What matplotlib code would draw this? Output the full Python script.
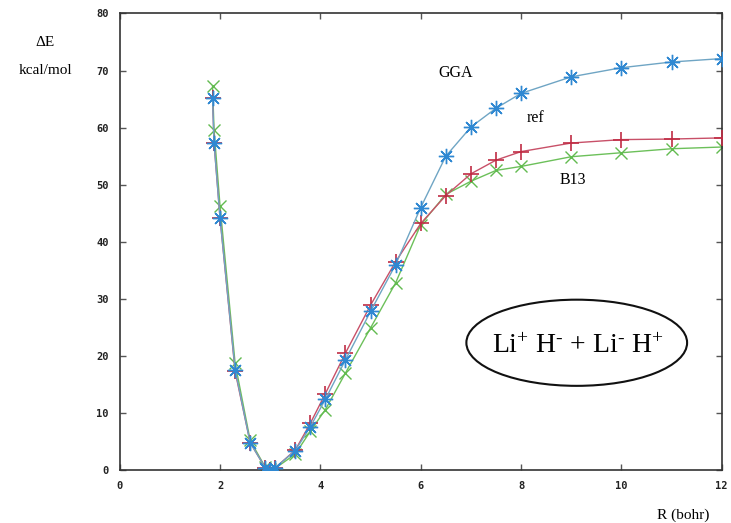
import matplotlib
matplotlib.use("Agg")
import matplotlib.pyplot as plt
from matplotlib.patches import Ellipse

plt.rcParams["mathtext.fontset"] = "custom"
plt.rcParams["mathtext.rm"] = "Liberation Serif"
plt.rcParams["mathtext.it"] = "Liberation Serif:italic"
plt.rcParams["mathtext.bf"] = "Liberation Serif:bold"

R = [1.85, 1.88, 2.0, 2.3, 2.6, 2.9, 3.0, 3.1, 3.5, 3.8, 4.1, 4.5, 5.0, 5.5,
     6.0, 6.5, 7.0, 7.5, 8.0, 9.0, 10.0, 11.0, 12.0]
gga = [65.2, 57.3, 44.1, 17.6, 4.8, 0.4, 0.0, 0.4, 3.4, 7.6, 12.4, 19.3, 27.8, 36.0,
       46.0, 55.0, 60.1, 63.4, 66.0, 68.9, 70.5, 71.5, 72.1]
ref = [65.2, 57.3, 44.1, 17.3, 4.8, 0.4, 0.0, 0.4, 3.5, 8.2, 13.4, 20.5, 28.9, 36.5,
       43.2, 48.1, 51.9, 54.3, 55.8, 57.3, 57.9, 58.0, 58.2]
b13 = [67.3, 59.6, 46.2, 18.7, 5.2, 0.5, 0.1, 0.3, 2.8, 6.8, 10.6, 17.0, 24.9, 32.8,
       43.0, 48.3, 50.6, 52.5, 53.2, 54.9, 55.6, 56.3, 56.6]
xticks = [0, 2, 4, 6, 8, 10, 12]
yticks = [0, 10, 20, 30, 40, 50, 60, 70, 80]

fig = plt.figure(figsize=(7.31, 5.23), dpi=100)
ax = fig.add_axes([0.1638, 0.1013, 0.8235, 0.8729])

ax.plot(R, b13, color="#6cc05a", lw=1.0, marker="x", ms=9, mew=1.0,
        mec="#62bb50", zorder=2)
ax.plot(R, ref, color="#c85068", lw=1.0, marker="+", ms=11, mew=1.2,
        mec="#c02c44", zorder=3)
ax.plot(R, gga, color="#6fa5c4", lw=1.0, marker=(8, 2, 0), ms=11, mew=1.0,
        mec="#2f88d2", zorder=4)

ax.set_xlim(0, 12)
ax.set_ylim(0, 80)
ax.set_xticks(xticks)
ax.set_yticks(yticks)
ax.tick_params(direction="in", top=True, right=True, length=4, width=1,
               color="#555555", pad=8)
for lab in ax.get_xticklabels() + ax.get_yticklabels():
    lab.set_fontfamily("DejaVu Sans Mono")
    lab.set_fontweight("bold")
    lab.set_fontsize(7.5)
    lab.set_color("#222222")
for sp in ax.spines.values():
    sp.set_color("#333333")
    sp.set_linewidth(1.2)

serif = "Liberation Serif"
fig.text(45 / 731, 1 - 42 / 523, "ΔE", family=serif, fontsize=11, ha="center", va="center")
fig.text(45 / 731, 1 - 70 / 523, "kcal/mol", family=serif, fontsize=11, ha="center", va="center")
fig.text(683 / 731, 1 - 515 / 523, "R (bohr)", family=serif, fontsize=11, ha="center", va="center")

ax.text(6.7, 69.5, "GGA", family=serif, fontsize=11.5, ha="center", va="center")
ax.text(8.28, 61.6, "ref", family=serif, fontsize=11.5, ha="center", va="center")
ax.text(9.03, 50.8, "B13", family=serif, fontsize=11.5, ha="center", va="center")

ell = Ellipse((9.11, 22.3), width=4.4, height=15.1, fill=False, ec="#111111", lw=1.5)
ax.add_patch(ell)
ax.text(9.13, 21.7, r"Li$^{+}$ H$^{\text{-}}$ + Li$^{\text{-}}$ H$^{+}$", family=serif,
        fontsize=20, ha="center", va="center")

fig.savefig("out.png", dpi=100)
